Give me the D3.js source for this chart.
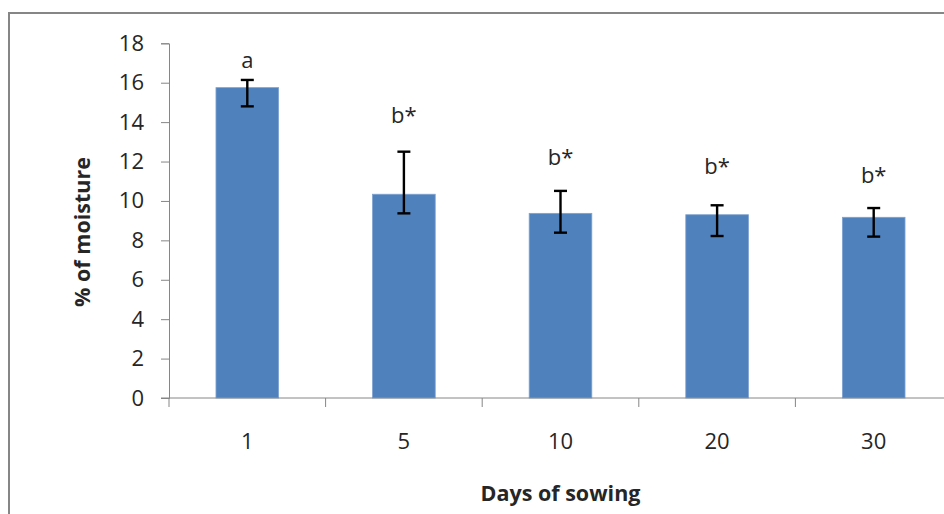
<!DOCTYPE html>
<html>
<head>
<meta charset="utf-8">
<script src="https://cdn.jsdelivr.net/npm/d3@7"></script>
<style>
  body { margin: 0; background: #fff; }
  text { font-family: "Open Sans", sans-serif; fill: #262626; }
</style>
</head>
<body>
<svg width="944" height="514"></svg>
<script>
// data
var days = ["1", "5", "10", "20", "30"];
var moisture = [15.75, 10.34, 9.37, 9.3, 9.17];
var errHigh = [16.14, 12.5, 10.51, 9.78, 9.64];
var errLow = [14.8, 9.37, 8.39, 8.22, 8.19];
var letters = ["a", "b*", "b*", "b*", "b*"];
var letterY = [16.75, 13.96, 11.83, 11.37, 10.91];
var yTicks = [0, 2, 4, 6, 8, 10, 12, 14, 16, 18];

var width = 944, height = 514;
var margin = { left: 169, right: -8, top: 43.3, bottom: 116 };
var fs = 22;

var svg = d3.select("svg");

// outer chart frame (partly off-page like the original)
svg.append("rect")
  .attr("x", 9).attr("y", 13)
  .attr("width", 1000).attr("height", 600)
  .attr("fill", "none").attr("stroke", "#868686").attr("stroke-width", 2);

var xScale = d3.scaleBand()
  .domain(days)
  .range([margin.left, width - margin.right])
  .paddingInner(0.6).paddingOuter(0.3);

var yScale = d3.scaleLinear()
  .domain([0, 18])
  .range([height - margin.bottom, margin.top]);

var plot = svg.append("g");

// bars
plot.selectAll("rect.bar")
  .data(moisture).enter()
  .append("rect").classed("bar", true)
  .attr("x", function(d, i) { return xScale(days[i]); })
  .attr("y", function(d) { return yScale(d); })
  .attr("width", xScale.bandwidth())
  .attr("height", function(d) { return yScale(0) - yScale(d); })
  .attr("fill", "#4f81bd")
  .attr("stroke", "#7ea2d0").attr("stroke-width", 0.8);

// error bars
var cap = 6.5;
var eb = plot.selectAll("g.err")
  .data(days).enter()
  .append("g").classed("err", true)
  .attr("stroke", "#000").attr("stroke-width", 2.4);
eb.append("line")
  .attr("x1", function(d) { return xScale(d) + xScale.bandwidth() / 2; })
  .attr("x2", function(d) { return xScale(d) + xScale.bandwidth() / 2; })
  .attr("y1", function(d, i) { return yScale(errHigh[i]); })
  .attr("y2", function(d, i) { return yScale(errLow[i]); });
eb.append("line")
  .attr("x1", function(d) { return xScale(d) + xScale.bandwidth() / 2 - cap; })
  .attr("x2", function(d) { return xScale(d) + xScale.bandwidth() / 2 + cap; })
  .attr("y1", function(d, i) { return yScale(errHigh[i]); })
  .attr("y2", function(d, i) { return yScale(errHigh[i]); });
eb.append("line")
  .attr("x1", function(d) { return xScale(d) + xScale.bandwidth() / 2 - cap; })
  .attr("x2", function(d) { return xScale(d) + xScale.bandwidth() / 2 + cap; })
  .attr("y1", function(d, i) { return yScale(errLow[i]); })
  .attr("y2", function(d, i) { return yScale(errLow[i]); });

// significance letters
plot.selectAll("text.letter")
  .data(letters).enter()
  .append("text").classed("letter", true)
  .attr("x", function(d, i) { return xScale(days[i]) + xScale.bandwidth() / 2; })
  .attr("y", function(d, i) { return yScale(letterY[i]); })
  .attr("text-anchor", "middle")
  .attr("font-size", fs)
  .text(function(d) { return d; });

// axes
var y_axis = d3.axisLeft(yScale).tickValues(yTicks).tickSize(8).tickPadding(17);
var y_axes = plot.append("g").attr("transform", "translate(" + margin.left + ",0)").call(y_axis);
y_axes.select(".domain").attr("stroke", "#868686");
y_axes.selectAll(".tick line").attr("stroke", "#868686");
y_axes.selectAll(".tick text").attr("font-size", fs).attr("fill", "#262626")
  .attr("font-family", "'Open Sans', sans-serif");

var x_axes = plot.append("g").attr("transform", "translate(0," + yScale(0) + ")");
x_axes.append("line")
  .attr("x1", margin.left - 8).attr("x2", width + 20)
  .attr("stroke", "#868686");
var bounds = days.map(function(d) { return xScale(d) - xScale.step() * xScale.paddingInner() / 2; });
x_axes.selectAll("line.tk")
  .data(bounds).enter()
  .append("line").classed("tk", true)
  .attr("x1", function(d) { return d; }).attr("x2", function(d) { return d; })
  .attr("y1", 0).attr("y2", 9)
  .attr("stroke", "#868686");
x_axes.selectAll("text.lbl")
  .data(days).enter()
  .append("text").classed("lbl", true)
  .attr("x", function(d) { return xScale(d) + xScale.bandwidth() / 2; })
  .attr("y", 51)
  .attr("text-anchor", "middle")
  .attr("font-size", fs)
  .text(function(d) { return d; });

// titles
svg.append("text")
  .attr("x", (margin.left + width - margin.right) / 2)
  .attr("y", 501)
  .attr("text-anchor", "middle")
  .attr("font-size", 21.5).attr("font-weight", "bold")
  .text("Days of sowing");

svg.append("text")
  .attr("transform", "translate(90," + 232 + ") rotate(-90)")
  .attr("text-anchor", "middle")
  .attr("font-size", 21.5).attr("font-weight", "bold")
  .text("% of moisture");
</script>
</body>
</html>
